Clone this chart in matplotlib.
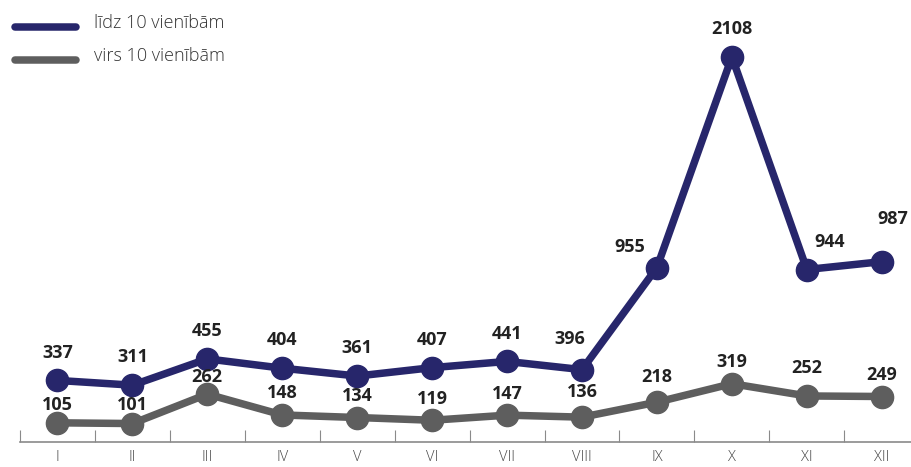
import matplotlib
matplotlib.use("Agg")
import matplotlib.pyplot as plt
from matplotlib.lines import Line2D

months = ["I", "II", "III", "IV", "V", "VI", "VII", "VIII", "IX", "X", "XI", "XII"]
upto10 = [337, 311, 455, 404, 361, 407, 441, 396, 955, 2108, 944, 987]
over10 = [105, 101, 262, 148, 134, 119, 147, 136, 218, 319, 252, 249]
series_names = ["līdz 10 vienībām", "virs 10 vienībām"]

navy = "#27266b"
gray = "#5e5e5e"
W, H = 911, 467
fig = plt.figure(figsize=(W / 100, H / 100), dpi=100)
ax = fig.add_axes([20 / W, (H - 442) / H, 891 / W, 442 / H])
ax.set_xlim(-0.5, 11.39)
ax.set_ylim(0, 2419)
ax.patch.set_alpha(0)

x = list(range(len(months)))
ax.plot(x, upto10, color=navy, lw=5.4, marker="o", ms=16, zorder=3, clip_on=False,
        solid_joinstyle="round")
ax.plot(x, over10, color=gray, lw=5.4, marker="o", ms=16, zorder=2, clip_on=False,
        solid_joinstyle="round")

# label offsets (points) — layout only
navy_off = {i: (0, 20) for i in x}
navy_off[7] = (-8.5, 22)
navy_off[8] = (-19.5, 14.5)
navy_off[10] = (16.5, 20)
navy_off[11] = (8, 31)
gray_off = {i: (0, 15.5) for i in x}
gray_off[0] = (0, 13)
gray_off[1] = (0, 13)
gray_off[2] = (0, 12.5)
gray_off[7] = (0, 18)
gray_off[8] = (0, 18)
gray_off[10] = (0, 20)

for xi, v in zip(x, upto10):
    ax.annotate(str(v), (xi, v), xytext=navy_off[xi], textcoords="offset points",
                ha="center", va="center", fontsize=13, fontweight="bold",
                family="Open Sans", color="#222222", zorder=5)
for xi, v in zip(x, over10):
    ax.annotate(str(v), (xi, v), xytext=gray_off[xi], textcoords="offset points",
                ha="center", va="center", fontsize=13, fontweight="bold",
                family="Open Sans", color="#222222", zorder=5)

for s in ["top", "right", "left"]:
    ax.spines[s].set_visible(False)
ax.spines["bottom"].set_color("#8a8a8a")
ax.spines["bottom"].set_linewidth(1.2)
ax.set_yticks([])
ax.set_xticks([i - 0.5 for i in range(12)])
ax.set_xticklabels([])
ax.tick_params(axis="x", which="major", direction="in", length=9, width=0.8, color="#8a8a8a")
ax.set_xticks(x, minor=True)
ax.set_xticklabels(months, minor=True, fontsize=10.5, family="Open Sans",
                   fontweight="light", color="#444444")
ax.tick_params(axis="x", which="minor", length=0, pad=6)

# legend
for yp, col, name in [(27, navy, series_names[0]), (60, gray, series_names[1])]:
    fig.add_artist(Line2D([15 / W, 76 / W], [1 - yp / H, 1 - yp / H], color=col, lw=5.4,
                          solid_capstyle="round", transform=fig.transFigure))
    fig.text(94 / W, 1 - (yp - 4) / H, name, fontsize=13, family="Open Sans",
             fontweight="light", color="#333333", va="center", ha="left")

fig.savefig("out.png", dpi=100)
